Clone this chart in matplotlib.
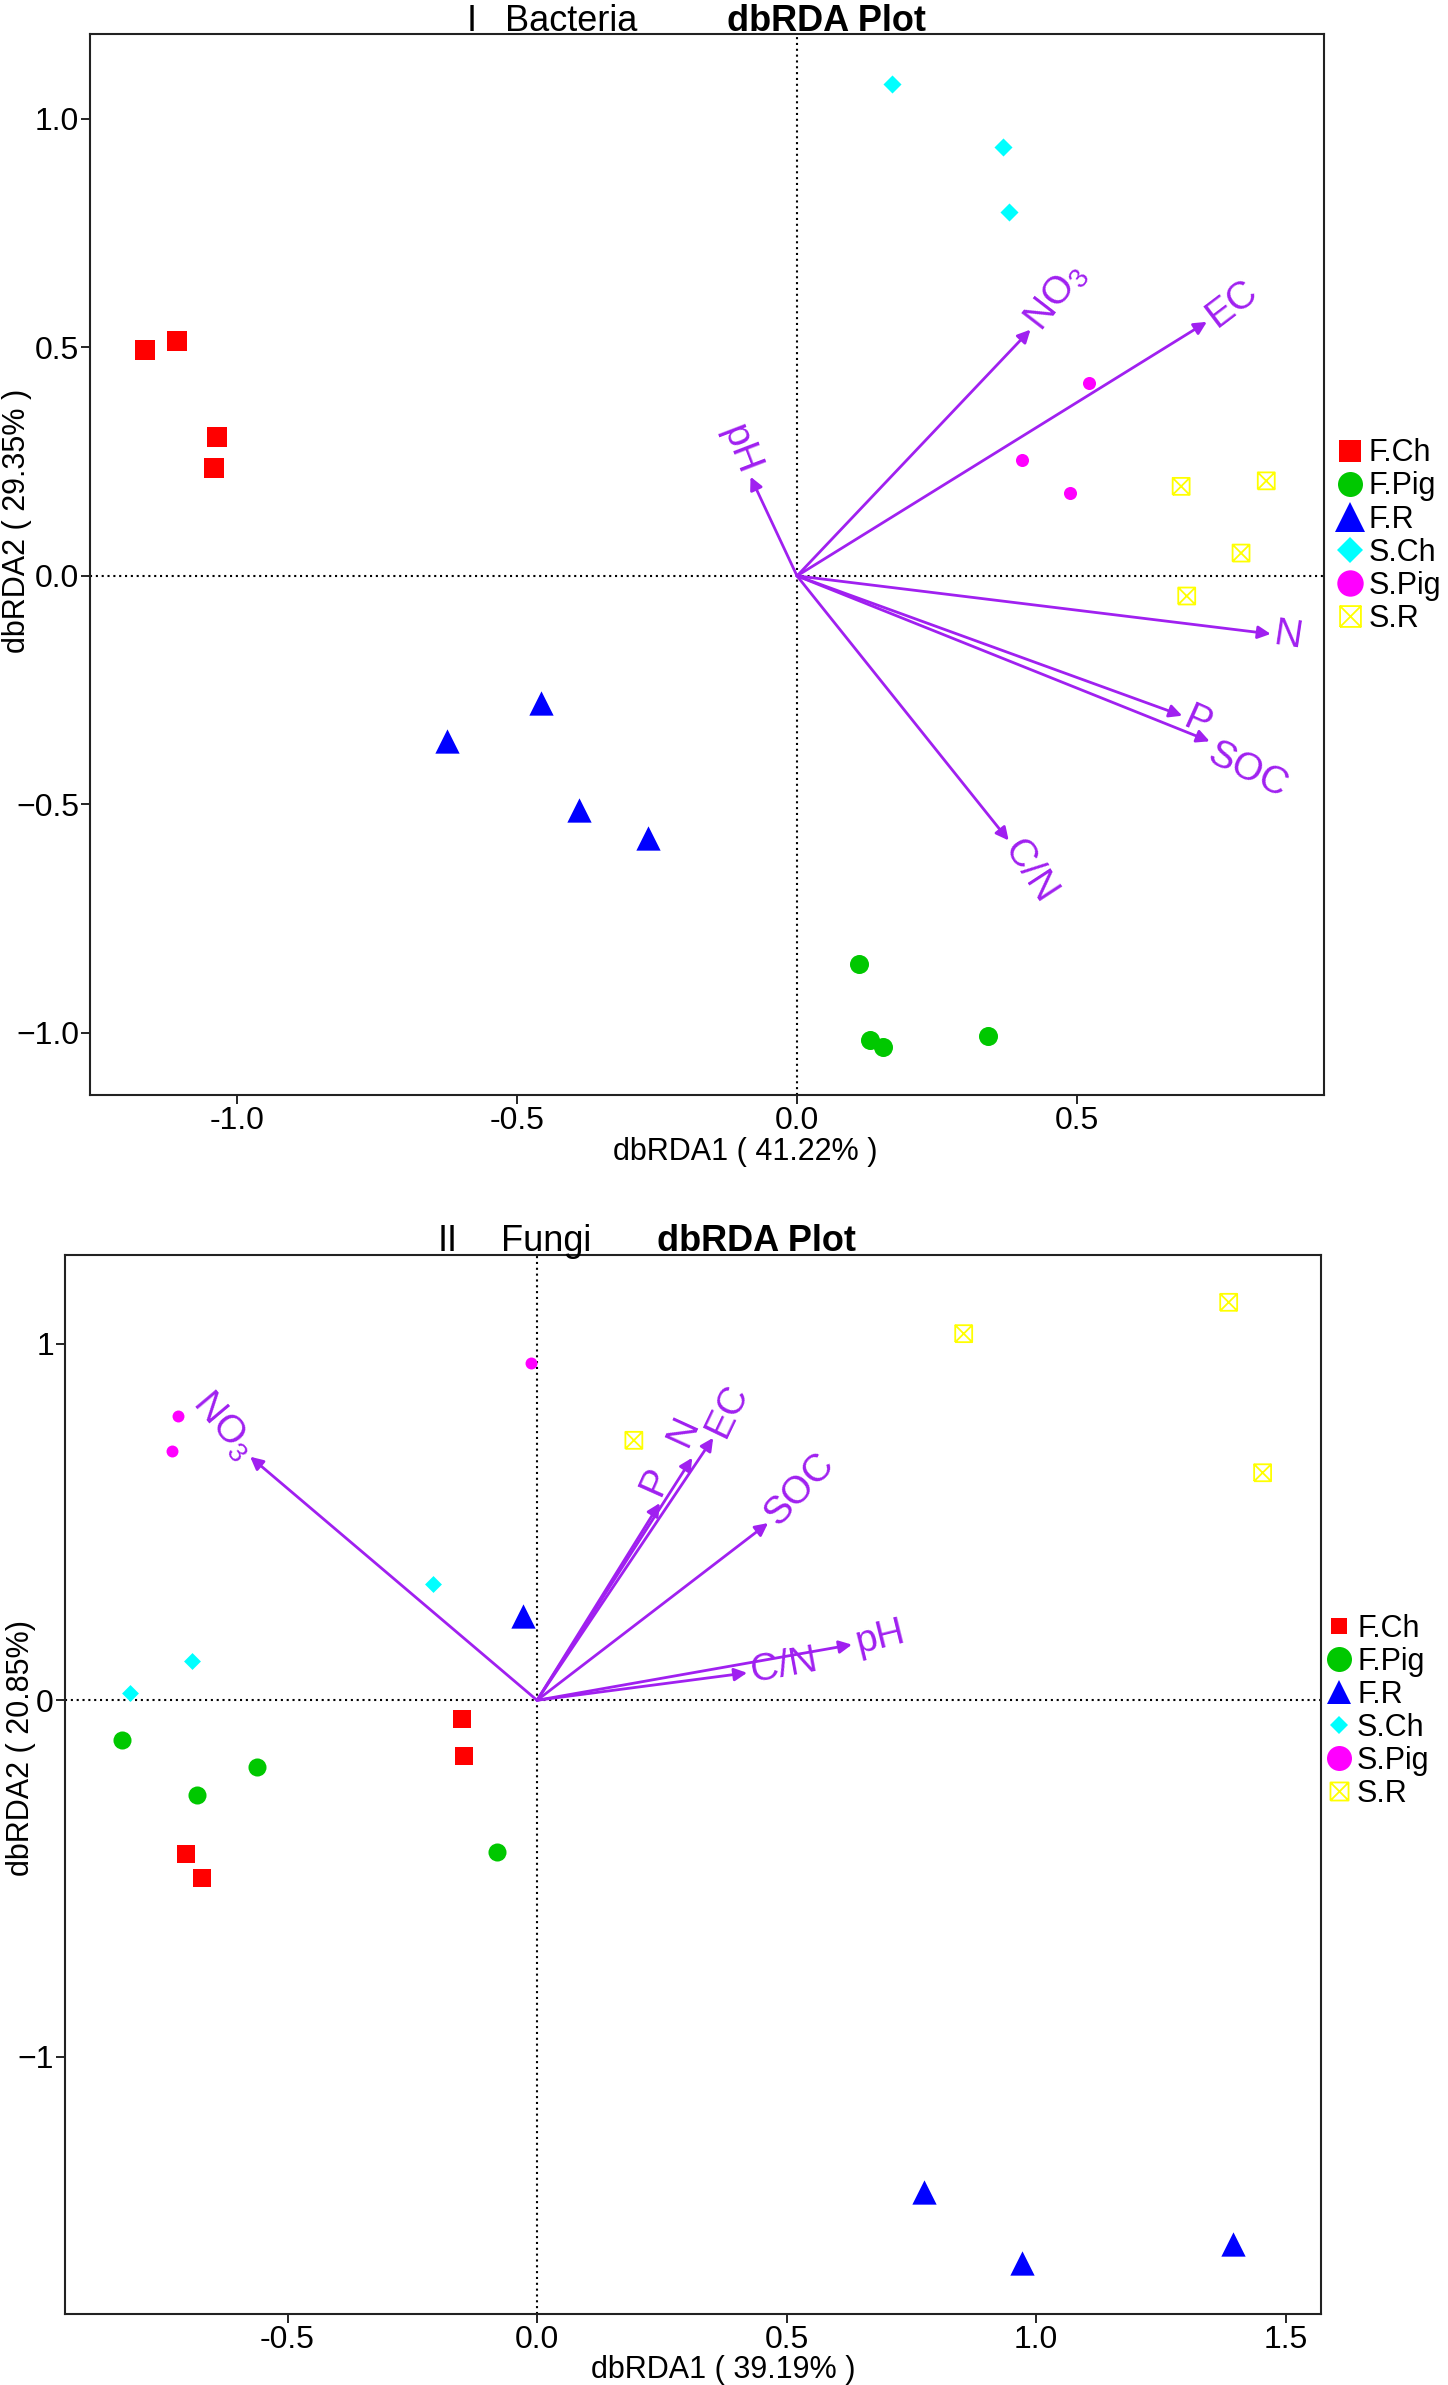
import matplotlib.pyplot as plt
import numpy as np
from matplotlib.path import Path
from matplotlib.lines import Line2D

plt.rcParams['font.family'] = ['Liberation Sans', 'DejaVu Sans']
plt.rcParams['mathtext.fontset'] = 'custom'
plt.rcParams['mathtext.rm'] = 'Liberation Sans'
plt.rcParams['mathtext.it'] = 'Liberation Sans:italic'
plt.rcParams['mathtext.bf'] = 'Liberation Sans:bold'
plt.rcParams['axes.unicode_minus'] = False

# ---------------- data ----------------
groups = ['F.Ch', 'F.Pig', 'F.R', 'S.Ch', 'S.Pig', 'S.R']

# I Bacteria : site scores
bac_fch_x = [-1.164, -1.108, -1.035, -1.042]
bac_fch_y = [0.494, 0.514, 0.303, 0.236]
bac_fpig_x = [0.110, 0.130, 0.153, 0.341]
bac_fpig_y = [-0.850, -1.015, -1.031, -1.006]
bac_fr_x = [-0.625, -0.457, -0.389, -0.267]
bac_fr_y = [-0.362, -0.278, -0.512, -0.574]
bac_sch_x = [0.170, 0.368, 0.379]
bac_sch_y = [1.077, 0.938, 0.797]
bac_spig_x = [0.521, 0.401, 0.488]
bac_spig_y = [0.422, 0.253, 0.181]
bac_sr_x = [0.686, 0.838, 0.793, 0.696]
bac_sr_y = [0.196, 0.208, 0.050, -0.044]

# I Bacteria : environmental vectors
bac_env = ['NO$_3$', 'EC', 'pH', 'N', 'P', 'SOC', 'C/N']
bac_env_x = [0.417, 0.732, -0.083, 0.846, 0.688, 0.737, 0.378]
bac_env_y = [0.539, 0.556, 0.217, -0.127, -0.306, -0.362, -0.579]

# II Fungi : site scores
fun_fch_x = [-0.150, -0.146, -0.703, -0.672]
fun_fch_y = [-0.052, -0.155, -0.431, -0.498]
fun_fpig_x = [-0.831, -0.561, -0.681, -0.080]
fun_fpig_y = [-0.112, -0.188, -0.265, -0.425]
fun_fr_x = [-0.028, 0.775, 0.972, 1.395]
fun_fr_y = [0.237, -1.380, -1.578, -1.524]
fun_sch_x = [-0.209, -0.692, -0.816]
fun_sch_y = [0.326, 0.110, 0.019]
fun_spig_x = [-0.013, -0.720, -0.731]
fun_spig_y = [0.946, 0.796, 0.699]
fun_sr_x = [0.855, 1.386, 1.454, 0.194]
fun_sr_y = [1.028, 1.116, 0.638, 0.729]

# II Fungi : environmental vectors
fun_env = ['NO$_3$', 'P', 'N', 'EC', 'SOC', 'pH', 'C/N']
fun_env_x = [-0.575, 0.246, 0.311, 0.353, 0.463, 0.631, 0.421]
fun_env_y = [0.683, 0.553, 0.680, 0.736, 0.497, 0.156, 0.077]

bac_xticks = [-1.0, -0.5, 0.0, 0.5]
bac_xticklabels = ['-1.0', '-0.5', '0.0', '0.5']
bac_yticks = [1.0, 0.5, 0.0, -0.5, -1.0]
bac_yticklabels = ['1.0', '0.5', '0.0', '\u22120.5', '\u22121.0']
fun_xticks = [-0.5, 0.0, 0.5, 1.0, 1.5]
fun_xticklabels = ['-0.5', '0.0', '0.5', '1.0', '1.5']
fun_yticks = [1, 0, -1]
fun_yticklabels = ['1', '0', '\u22121']

# ---------------- styles ----------------
colors = ['#FF0000', '#00C800', '#0000FF', '#00FFFF', '#FF00FF', '#FFFF00']
arrow_color = '#A020F0'

box_x = Path([(-1, -1), (1, -1), (1, 1), (-1, 1), (-1, -1),
              (-1, -1), (1, 1), (-1, 1), (1, -1)],
             [Path.MOVETO, Path.LINETO, Path.LINETO, Path.LINETO, Path.LINETO,
              Path.MOVETO, Path.LINETO, Path.MOVETO, Path.LINETO])
markers = ['s', 'o', '^', 'D', 'o', box_x]


def draw_sites(ax, xs, ys, sizes):
    for i, (x, y) in enumerate(zip(xs, ys)):
        if i == 5:
            ax.scatter(x, y, marker=markers[i], s=sizes[i] ** 2, facecolors='none',
                       edgecolors=colors[i], linewidths=1.3, zorder=3)
        else:
            ax.scatter(x, y, marker=markers[i], s=sizes[i] ** 2, c=colors[i],
                       linewidths=0, zorder=3)


def draw_vectors(ax, names, xs, ys, nudge, gap=4):
    o = ax.transData.transform((0, 0))
    for name, x, y in zip(names, xs, ys):
        ax.annotate('', xy=(x, y), xytext=(0, 0),
                    arrowprops=dict(arrowstyle='-|>', color=arrow_color, lw=2.0,
                                    mutation_scale=19, shrinkA=0, shrinkB=0),
                    zorder=4)
        p = ax.transData.transform((x, y))
        d = (p - o) / np.hypot(*(p - o))
        n = np.array([-d[1], d[0]])
        ang = np.degrees(np.arctan2(y, x))
        ha = 'left'
        if ang > 90:
            ang -= 180
            ha = 'right'
        elif ang < -90:
            ang += 180
            ha = 'right'
        off = d * gap + n * nudge.get(name, 0)
        ax.annotate(name, xy=(x, y), xytext=(off[0], off[1]),
                    textcoords='offset pixels', rotation=ang, ha=ha, va='center',
                    rotation_mode='anchor', color=arrow_color, fontsize=28, zorder=5)


def style_axes(ax, xlim, ylim, xt, xtl, yt, ytl):
    ax.set_xlim(*xlim)
    ax.set_ylim(*ylim)
    ax.axhline(0, color='black', lw=1.5, ls=(0, (1, 1.8)), zorder=1)
    ax.axvline(0, color='black', lw=1.5, ls=(0, (1, 1.8)), zorder=1)
    ax.set_xticks(xt)
    ax.set_xticklabels(xtl)
    ax.set_yticks(yt)
    ax.set_yticklabels(ytl)
    ax.tick_params(direction='out', length=6.5, width=1.2, labelsize=23, pad=1.5)
    for s in ax.spines.values():
        s.set_linewidth(1.5)
        s.set_color('#222222')


fig = plt.figure(figsize=(14.48, 23.85), dpi=100)

# ---------------- I Bacteria ----------------
ax1 = fig.add_axes([0.0622, 0.5409, 0.8525, 0.44465])
style_axes(ax1, (-1.2625, 0.942), (-1.136, 1.185),
           bac_xticks, bac_xticklabels, bac_yticks, bac_yticklabels)
draw_sites(ax1,
           [bac_fch_x, bac_fpig_x, bac_fr_x, bac_sch_x, bac_spig_x, bac_sr_x],
           [bac_fch_y, bac_fpig_y, bac_fr_y, bac_sch_y, bac_spig_y, bac_sr_y],
           [14.4, 13.7, 17.5, 9.2, 9.4, 12.2])
draw_vectors(ax1, bac_env, bac_env_x, bac_env_y, {'SOC': -10})
ax1.set_xlabel('dbRDA1 ( 41.22% )', fontsize=22)
ax1.xaxis.set_label_coords(0.531, -0.040)
ax1.set_ylabel('dbRDA2 ( 29.35% )', fontsize=22)
ax1.yaxis.set_label_coords(-0.047, 0.541)
ax1.text(0.305, 1.003, 'I', transform=ax1.transAxes, fontsize=26, va='baseline')
ax1.text(0.336, 1.003, 'Bacteria', transform=ax1.transAxes, fontsize=26, va='baseline')
ax1.text(0.516, 1.003, 'dbRDA Plot', transform=ax1.transAxes, fontsize=26,
         fontweight='bold', va='baseline')

leg_sizes1 = [16, 18, 22, 13, 19, 15]
h1 = [Line2D([], [], ls='none', marker=markers[i], ms=leg_sizes1[i],
             markerfacecolor=('none' if i == 5 else colors[i]),
             markeredgecolor=colors[i], markeredgewidth=(1.3 if i == 5 else 0))
      for i in range(6)]
ax1.legend(h1, groups, loc='center left', bbox_to_anchor=(1.0, 0.527), frameon=False,
           fontsize=22, handlelength=1.2, handletextpad=0.0, borderpad=0.25,
           borderaxespad=0, labelspacing=0.1)

# ---------------- II Fungi ----------------
ax2 = fig.add_axes([0.04489, 0.02977, 0.8674, 0.44423])
style_axes(ax2, (-0.946, 1.571), (-1.721, 1.250),
           fun_xticks, fun_xticklabels, fun_yticks, fun_yticklabels)
draw_sites(ax2,
           [fun_fch_x, fun_fpig_x, fun_fr_x, fun_sch_x, fun_spig_x, fun_sr_x],
           [fun_fch_y, fun_fpig_y, fun_fr_y, fun_sch_y, fun_spig_y, fun_sr_y],
           [12.5, 13.0, 17.5, 8.6, 8.6, 12.2])
draw_vectors(ax2, fun_env, fun_env_x, fun_env_y, {'N': 20, 'P': 13})
ax2.set_xlabel('dbRDA1 ( 39.19% )', fontsize=22)
ax2.xaxis.set_label_coords(0.524, -0.0387)
ax2.set_ylabel('dbRDA2 ( 20.85%)', fontsize=22)
ax2.yaxis.set_label_coords(-0.023, 0.534)
ax2.text(0.297, 1.0036, 'II', transform=ax2.transAxes, fontsize=26, va='baseline')
ax2.text(0.347, 1.0036, 'Fungi', transform=ax2.transAxes, fontsize=26, va='baseline')
ax2.text(0.471, 1.0036, 'dbRDA Plot', transform=ax2.transAxes, fontsize=26,
         fontweight='bold', va='baseline')

leg_sizes2 = [12, 18, 17, 9, 18, 13]
h2 = [Line2D([], [], ls='none', marker=markers[i], ms=leg_sizes2[i],
             markerfacecolor=('none' if i == 5 else colors[i]),
             markeredgecolor=colors[i], markeredgewidth=(1.3 if i == 5 else 0))
      for i in range(6)]
ax2.legend(h2, groups, loc='center left', bbox_to_anchor=(1.0, 0.569), frameon=False,
           fontsize=22, handlelength=1.0, handletextpad=0.08, borderpad=0.1,
           borderaxespad=0, labelspacing=0.1)

fig.savefig('out.png', dpi=100)
